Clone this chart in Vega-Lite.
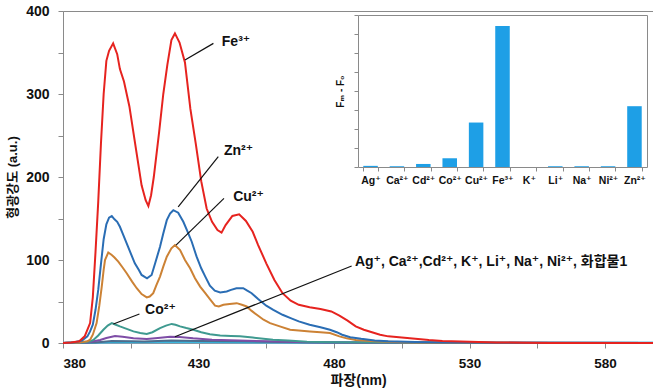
{
  "$schema": "https://vega.github.io/schema/vega-lite/v6.json",
  "width": 590,
  "height": 332,
  "autosize": {"type": "none"},
  "padding": {"left": 63, "top": 11, "right": 0, "bottom": 48},
  "background": "white",
  "config": {
    "view": {"stroke": "#8a8a8a", "strokeWidth": 1},
    "font": "Liberation Sans, Noto Sans CJK KR, DejaVu Sans",
    "axis": {"grid": false, "domainColor": "#8a8a8a", "tickColor": "#8a8a8a", "labelColor": "#111", "titleColor": "#111"}
  },
  "datasets": {
    "spectra": [
      {"s": "light", "w": 380, "v": 0.3}, {"s": "light", "w": 420, "v": 0.8}, {"s": "light", "w": 480, "v": 0.5}, {"s": "light", "w": 600, "v": 0.3},
      {"s": "cyan", "w": 380, "v": 0}, {"s": "cyan", "w": 395, "v": 0.8}, {"s": "cyan", "w": 400, "v": 1.5}, {"s": "cyan", "w": 410, "v": 1.2}, {"s": "cyan", "w": 420, "v": 1.8}, {"s": "cyan", "w": 440, "v": 1.2}, {"s": "cyan", "w": 470, "v": 0.6}, {"s": "cyan", "w": 520, "v": 0.3}, {"s": "cyan", "w": 600, "v": 0.2},
      {"s": "slate", "w": 380, "v": 0}, {"s": "slate", "w": 392, "v": 0.5}, {"s": "slate", "w": 398, "v": 2.5}, {"s": "slate", "w": 405, "v": 2}, {"s": "slate", "w": 410, "v": 1.8}, {"s": "slate", "w": 420, "v": 3}, {"s": "slate", "w": 430, "v": 2.5}, {"s": "slate", "w": 445, "v": 2}, {"s": "slate", "w": 460, "v": 1.2}, {"s": "slate", "w": 480, "v": 0.6}, {"s": "slate", "w": 520, "v": 0.2}, {"s": "slate", "w": 600, "v": 0},
      {"s": "Cd", "w": 380, "v": 0}, {"s": "Cd", "w": 389, "v": 0.5}, {"s": "Cd", "w": 393.7, "v": 3.6}, {"s": "Cd", "w": 396, "v": 6}, {"s": "Cd", "w": 399.2, "v": 8.4}, {"s": "Cd", "w": 402, "v": 7.5}, {"s": "Cd", "w": 406, "v": 5.6}, {"s": "Cd", "w": 410.9, "v": 4.8}, {"s": "Cd", "w": 415, "v": 6}, {"s": "Cd", "w": 419.5, "v": 7.6}, {"s": "Cd", "w": 423, "v": 7.3}, {"s": "Cd", "w": 428, "v": 5.6}, {"s": "Cd", "w": 435, "v": 4}, {"s": "Cd", "w": 445, "v": 3}, {"s": "Cd", "w": 455, "v": 2}, {"s": "Cd", "w": 470, "v": 0.8}, {"s": "Cd", "w": 490, "v": 0.3}, {"s": "Cd", "w": 600, "v": 0},
      {"s": "Co", "w": 380, "v": 0}, {"s": "Co", "w": 388, "v": 0.5}, {"s": "Co", "w": 390, "v": 2}, {"s": "Co", "w": 391.2, "v": 3.6}, {"s": "Co", "w": 393, "v": 9}, {"s": "Co", "w": 394.9, "v": 16}, {"s": "Co", "w": 396.5, "v": 21}, {"s": "Co", "w": 398, "v": 24}, {"s": "Co", "w": 399.5, "v": 22}, {"s": "Co", "w": 401, "v": 20}, {"s": "Co", "w": 403.5, "v": 17}, {"s": "Co", "w": 406, "v": 14}, {"s": "Co", "w": 408.5, "v": 12}, {"s": "Co", "w": 410.9, "v": 11}, {"s": "Co", "w": 413, "v": 13}, {"s": "Co", "w": 415.8, "v": 18}, {"s": "Co", "w": 418, "v": 21}, {"s": "Co", "w": 420.1, "v": 23}, {"s": "Co", "w": 421.5, "v": 22}, {"s": "Co", "w": 423.2, "v": 20}, {"s": "Co", "w": 425.5, "v": 18}, {"s": "Co", "w": 428.1, "v": 16}, {"s": "Co", "w": 431, "v": 13}, {"s": "Co", "w": 434.2, "v": 10.5}, {"s": "Co", "w": 438, "v": 9}, {"s": "Co", "w": 442, "v": 8.5}, {"s": "Co", "w": 445.3, "v": 8}, {"s": "Co", "w": 450, "v": 6.5}, {"s": "Co", "w": 457.5, "v": 4}, {"s": "Co", "w": 463, "v": 3}, {"s": "Co", "w": 470, "v": 1.6}, {"s": "Co", "w": 480, "v": 1}, {"s": "Co", "w": 490, "v": 0.5}, {"s": "Co", "w": 520, "v": 0.2}, {"s": "Co", "w": 600, "v": 0},
      {"s": "Cu", "w": 380, "v": 0}, {"s": "Cu", "w": 386, "v": 0.5}, {"s": "Cu", "w": 389, "v": 2}, {"s": "Cu", "w": 390, "v": 4}, {"s": "Cu", "w": 391, "v": 10}, {"s": "Cu", "w": 392.4, "v": 24}, {"s": "Cu", "w": 393.4, "v": 45}, {"s": "Cu", "w": 394.3, "v": 68}, {"s": "Cu", "w": 395, "v": 88}, {"s": "Cu", "w": 395.5, "v": 100}, {"s": "Cu", "w": 396.7, "v": 109}, {"s": "Cu", "w": 398, "v": 106}, {"s": "Cu", "w": 399, "v": 103}, {"s": "Cu", "w": 400.4, "v": 98}, {"s": "Cu", "w": 402, "v": 91}, {"s": "Cu", "w": 403.5, "v": 84}, {"s": "Cu", "w": 405.5, "v": 74}, {"s": "Cu", "w": 407.2, "v": 66}, {"s": "Cu", "w": 409, "v": 59}, {"s": "Cu", "w": 410.9, "v": 55}, {"s": "Cu", "w": 412, "v": 56}, {"s": "Cu", "w": 413.3, "v": 60}, {"s": "Cu", "w": 414.5, "v": 70}, {"s": "Cu", "w": 415.8, "v": 80}, {"s": "Cu", "w": 417, "v": 92}, {"s": "Cu", "w": 418.3, "v": 104}, {"s": "Cu", "w": 420, "v": 114}, {"s": "Cu", "w": 421.3, "v": 118}, {"s": "Cu", "w": 423.2, "v": 112}, {"s": "Cu", "w": 425, "v": 100}, {"s": "Cu", "w": 426.9, "v": 90}, {"s": "Cu", "w": 428.7, "v": 78}, {"s": "Cu", "w": 430.6, "v": 68}, {"s": "Cu", "w": 432.5, "v": 60}, {"s": "Cu", "w": 434.2, "v": 53}, {"s": "Cu", "w": 436.1, "v": 45}, {"s": "Cu", "w": 437.5, "v": 44}, {"s": "Cu", "w": 439.2, "v": 46}, {"s": "Cu", "w": 441.5, "v": 47}, {"s": "Cu", "w": 444.1, "v": 48}, {"s": "Cu", "w": 446, "v": 46}, {"s": "Cu", "w": 447.8, "v": 44}, {"s": "Cu", "w": 449.5, "v": 39}, {"s": "Cu", "w": 451.5, "v": 34}, {"s": "Cu", "w": 454, "v": 28}, {"s": "Cu", "w": 456.4, "v": 24}, {"s": "Cu", "w": 460, "v": 20}, {"s": "Cu", "w": 463.8, "v": 16}, {"s": "Cu", "w": 467, "v": 15}, {"s": "Cu", "w": 471.1, "v": 14}, {"s": "Cu", "w": 475, "v": 13}, {"s": "Cu", "w": 478.5, "v": 12}, {"s": "Cu", "w": 482, "v": 8}, {"s": "Cu", "w": 484.7, "v": 5.6}, {"s": "Cu", "w": 488, "v": 3.5}, {"s": "Cu", "w": 495, "v": 2}, {"s": "Cu", "w": 505, "v": 1}, {"s": "Cu", "w": 520, "v": 0.4}, {"s": "Cu", "w": 540, "v": 0.2}, {"s": "Cu", "w": 600, "v": 0},
      {"s": "Zn", "w": 380, "v": 0}, {"s": "Zn", "w": 384, "v": 0.5}, {"s": "Zn", "w": 387, "v": 3}, {"s": "Zn", "w": 389, "v": 8}, {"s": "Zn", "w": 390, "v": 14}, {"s": "Zn", "w": 391, "v": 22}, {"s": "Zn", "w": 392, "v": 40}, {"s": "Zn", "w": 393, "v": 64}, {"s": "Zn", "w": 394, "v": 95}, {"s": "Zn", "w": 395, "v": 125}, {"s": "Zn", "w": 396, "v": 143}, {"s": "Zn", "w": 397, "v": 151}, {"s": "Zn", "w": 398, "v": 153}, {"s": "Zn", "w": 399, "v": 149}, {"s": "Zn", "w": 400, "v": 146}, {"s": "Zn", "w": 401, "v": 140}, {"s": "Zn", "w": 402, "v": 132}, {"s": "Zn", "w": 403.5, "v": 120}, {"s": "Zn", "w": 405, "v": 108}, {"s": "Zn", "w": 406.5, "v": 96}, {"s": "Zn", "w": 408, "v": 88}, {"s": "Zn", "w": 409, "v": 82}, {"s": "Zn", "w": 411, "v": 78}, {"s": "Zn", "w": 412.7, "v": 82}, {"s": "Zn", "w": 414, "v": 96}, {"s": "Zn", "w": 415.8, "v": 116}, {"s": "Zn", "w": 417, "v": 132}, {"s": "Zn", "w": 418.3, "v": 148}, {"s": "Zn", "w": 419.5, "v": 156}, {"s": "Zn", "w": 420.7, "v": 160}, {"s": "Zn", "w": 422.5, "v": 157}, {"s": "Zn", "w": 424.4, "v": 146}, {"s": "Zn", "w": 426, "v": 134}, {"s": "Zn", "w": 427.5, "v": 122}, {"s": "Zn", "w": 429.3, "v": 104}, {"s": "Zn", "w": 431, "v": 90}, {"s": "Zn", "w": 432.5, "v": 80}, {"s": "Zn", "w": 434.2, "v": 69}, {"s": "Zn", "w": 436, "v": 63}, {"s": "Zn", "w": 438, "v": 61}, {"s": "Zn", "w": 440.4, "v": 62}, {"s": "Zn", "w": 442, "v": 64}, {"s": "Zn", "w": 444, "v": 66}, {"s": "Zn", "w": 446.5, "v": 66}, {"s": "Zn", "w": 448, "v": 63}, {"s": "Zn", "w": 449.6, "v": 60}, {"s": "Zn", "w": 452, "v": 53}, {"s": "Zn", "w": 455, "v": 45}, {"s": "Zn", "w": 457.6, "v": 40}, {"s": "Zn", "w": 461, "v": 34}, {"s": "Zn", "w": 464, "v": 30}, {"s": "Zn", "w": 467, "v": 26}, {"s": "Zn", "w": 471, "v": 22}, {"s": "Zn", "w": 475, "v": 19}, {"s": "Zn", "w": 478.5, "v": 16}, {"s": "Zn", "w": 481, "v": 13}, {"s": "Zn", "w": 483, "v": 10}, {"s": "Zn", "w": 486, "v": 7}, {"s": "Zn", "w": 490, "v": 5}, {"s": "Zn", "w": 495, "v": 3}, {"s": "Zn", "w": 500, "v": 2}, {"s": "Zn", "w": 510, "v": 1.2}, {"s": "Zn", "w": 520, "v": 0.6}, {"s": "Zn", "w": 540, "v": 0.3}, {"s": "Zn", "w": 600, "v": 0},
      {"s": "Fe", "w": 380, "v": 0}, {"s": "Fe", "w": 383, "v": 0.5}, {"s": "Fe", "w": 386, "v": 2}, {"s": "Fe", "w": 388, "v": 8}, {"s": "Fe", "w": 390, "v": 24}, {"s": "Fe", "w": 391, "v": 55}, {"s": "Fe", "w": 392, "v": 110}, {"s": "Fe", "w": 393, "v": 170}, {"s": "Fe", "w": 394, "v": 240}, {"s": "Fe", "w": 395, "v": 300}, {"s": "Fe", "w": 396, "v": 340}, {"s": "Fe", "w": 397, "v": 352}, {"s": "Fe", "w": 398.5, "v": 361}, {"s": "Fe", "w": 400, "v": 348}, {"s": "Fe", "w": 401, "v": 330}, {"s": "Fe", "w": 402.5, "v": 315}, {"s": "Fe", "w": 404.5, "v": 285}, {"s": "Fe", "w": 407, "v": 232}, {"s": "Fe", "w": 409, "v": 190}, {"s": "Fe", "w": 410.5, "v": 172}, {"s": "Fe", "w": 411.5, "v": 165}, {"s": "Fe", "w": 412.5, "v": 178}, {"s": "Fe", "w": 413.5, "v": 200}, {"s": "Fe", "w": 415.5, "v": 255}, {"s": "Fe", "w": 417, "v": 300}, {"s": "Fe", "w": 418.5, "v": 335}, {"s": "Fe", "w": 420, "v": 365}, {"s": "Fe", "w": 421.3, "v": 373}, {"s": "Fe", "w": 423, "v": 362}, {"s": "Fe", "w": 425, "v": 338}, {"s": "Fe", "w": 427, "v": 282}, {"s": "Fe", "w": 429, "v": 240}, {"s": "Fe", "w": 431, "v": 195}, {"s": "Fe", "w": 433, "v": 162}, {"s": "Fe", "w": 435, "v": 146}, {"s": "Fe", "w": 437, "v": 136}, {"s": "Fe", "w": 438.5, "v": 133}, {"s": "Fe", "w": 440, "v": 142}, {"s": "Fe", "w": 442.5, "v": 153}, {"s": "Fe", "w": 445, "v": 155}, {"s": "Fe", "w": 447.5, "v": 147}, {"s": "Fe", "w": 450, "v": 134}, {"s": "Fe", "w": 452, "v": 118}, {"s": "Fe", "w": 455, "v": 96}, {"s": "Fe", "w": 458, "v": 76}, {"s": "Fe", "w": 461, "v": 60}, {"s": "Fe", "w": 464, "v": 51}, {"s": "Fe", "w": 467, "v": 46}, {"s": "Fe", "w": 471, "v": 43}, {"s": "Fe", "w": 475, "v": 41}, {"s": "Fe", "w": 479, "v": 38}, {"s": "Fe", "w": 482, "v": 33}, {"s": "Fe", "w": 485, "v": 27}, {"s": "Fe", "w": 488, "v": 20}, {"s": "Fe", "w": 491, "v": 16}, {"s": "Fe", "w": 494, "v": 13}, {"s": "Fe", "w": 497, "v": 10}, {"s": "Fe", "w": 500, "v": 8}, {"s": "Fe", "w": 505, "v": 6.5}, {"s": "Fe", "w": 510, "v": 5}, {"s": "Fe", "w": 515, "v": 3.5}, {"s": "Fe", "w": 520, "v": 2.5}, {"s": "Fe", "w": 530, "v": 1.5}, {"s": "Fe", "w": 540, "v": 0.7}, {"s": "Fe", "w": 550, "v": 0.2}, {"s": "Fe", "w": 560, "v": 0}, {"s": "Fe", "w": 600, "v": 0}
    ],
    "leaders": [
      {"x1": 425, "y1": 341, "x2": 435.5, "y2": 361},
      {"x1": 422.5, "y1": 164, "x2": 437.3, "y2": 224.5},
      {"x1": 421.7, "y1": 118, "x2": 439.4, "y2": 174.3},
      {"x1": 398.6, "y1": 22.9, "x2": 408.2, "y2": 35},
      {"x1": 421.3, "y1": 7.6, "x2": 486.5, "y2": 92.8}
    ],
    "labels": [
      {"x": 438.6, "y": 363, "t": "Fe³⁺"},
      {"x": 439.4, "y": 231, "t": "Zn²⁺"},
      {"x": 442.8, "y": 176, "t": "Cu²⁺"},
      {"x": 410.3, "y": 39.8, "t": "Co²⁺"},
      {"x": 487.7, "y": 97.6, "t": "Ag⁺, Ca²⁺,Cd²⁺, K⁺, Li⁺, Na⁺, Ni²⁺, 화합물1"}
    ],
    "bars": [
      {"ion": "Ag⁺", "d": 3}, {"ion": "Ca²⁺", "d": 2}, {"ion": "Cd²⁺", "d": 8}, {"ion": "Co²⁺", "d": 23},
      {"ion": "Cu²⁺", "d": 117}, {"ion": "Fe³⁺", "d": 371}, {"ion": "K⁺", "d": 0}, {"ion": "Li⁺", "d": 2},
      {"ion": "Na⁺", "d": 2}, {"ion": "Ni²⁺", "d": 2}, {"ion": "Zn²⁺", "d": 160}
    ]
  },
  "layer": [
    {
      "data": {"name": "spectra"},
      "mark": {"type": "line", "strokeWidth": 2},
      "encoding": {
        "x": {"field": "w", "type": "quantitative",
          "scale": {"domain": [380, 597.7], "nice": false, "zero": false},
          "axis": {"values": [380, 405, 430, 455, 480, 505, 530, 555, 580],
            "labelExpr": "datum.value % 50 == 30 ? datum.label : ''",
            "title": "파장(nm)", "tickSize": 5, "labelPadding": 8, "labelFontSize": 13.5, "labelFontWeight": "bold",
            "titleFontSize": 14, "titleFontWeight": "bold", "titlePadding": 4, "labelOverlap": false}},
        "y": {"field": "v", "type": "quantitative",
          "scale": {"domain": [0, 400], "nice": false},
          "axis": {"values": [0, 50, 100, 150, 200, 250, 300, 350, 400],
            "labelExpr": "datum.value % 100 == 0 ? datum.label : ''",
            "title": "형광강도 (a.u.)", "tickSize": 5, "labelPadding": 9, "labelFontSize": 14, "labelFontWeight": "bold",
            "titleFontSize": 13, "titleFontWeight": "bold", "titlePadding": 6, "labelOverlap": false}},
        "color": {"field": "s", "type": "nominal", "legend": null, "sort": null,
          "scale": {"domain": ["light", "cyan", "slate", "Cd", "Co", "Cu", "Zn", "Fe"],
            "range": ["#6DB8E6", "#2DB6DC", "#4E6C8C", "#7E4DA6", "#3F9A90", "#CC8235", "#2A6DB4", "#E6231F"]}}
      }
    },
    {
      "data": {"name": "leaders"},
      "mark": {"type": "rule", "color": "#111", "strokeWidth": 1.2},
      "encoding": {
        "x": {"field": "x1", "type": "quantitative", "scale": {"domain": [380, 597.7], "nice": false, "zero": false}, "axis": null},
        "y": {"field": "y1", "type": "quantitative", "scale": {"domain": [0, 400], "nice": false}, "axis": null},
        "x2": {"field": "x2"},
        "y2": {"field": "y2"}
      }
    },
    {
      "data": {"name": "labels"},
      "mark": {"type": "text", "align": "left", "baseline": "middle", "fontSize": 14, "fontWeight": "bold", "color": "#111"},
      "encoding": {
        "x": {"field": "x", "type": "quantitative", "scale": {"domain": [380, 597.7], "nice": false, "zero": false}, "axis": null},
        "y": {"field": "y", "type": "quantitative", "scale": {"domain": [0, 400], "nice": false}, "axis": null},
        "text": {"field": "t"}
      }
    },
    {
      "data": {"name": "bars"},
      "mark": {"type": "bar", "color": "#1E9FE6"},
      "encoding": {
        "x": {"field": "ion", "type": "nominal", "sort": null,
          "scale": {"range": [295, 584], "paddingInner": 0.45, "paddingOuter": 0.2},
          "axis": {"orient": "bottom", "offset": -176, "title": null, "labelAngle": 0, "tickBand": "extent",
            "tickSize": 4, "labelFontSize": 10.5, "labelFontWeight": "bold", "labelPadding": 4, "labelOverlap": false, "labelBound": false}},
        "y": {"field": "d", "type": "quantitative",
          "scale": {"domain": [0, 400], "range": [156, 4], "nice": false},
          "axis": {"orient": "left", "offset": -295, "labels": false, "values": [0, 50, 100, 150, 200, 250, 300, 350, 400],
            "tickSize": 4, "title": "Fₘ - F₀", "titleFontSize": 10, "titleFontWeight": "bold", "titlePadding": 8, "grid": false}}
      }
    },
    {
      "data": {"name": "bars"},
      "mark": {"type": "bar", "opacity": 0},
      "encoding": {
        "x": {"field": "ion", "type": "nominal", "sort": null,
          "scale": {"range": [295, 584], "paddingInner": 0.45, "paddingOuter": 0.2},
          "axis": {"orient": "top", "offset": -4, "title": null, "labels": false, "ticks": false}},
        "y": {"field": "d", "type": "quantitative",
          "scale": {"domain": [0, 400], "range": [156, 4], "nice": false},
          "axis": {"orient": "right", "offset": -6, "title": null, "labels": false, "ticks": false, "grid": false}}
      }
    }
  ],
  "resolve": {
    "scale": {"x": "independent", "y": "independent"},
    "axis": {"x": "independent", "y": "independent"}
  }
}
